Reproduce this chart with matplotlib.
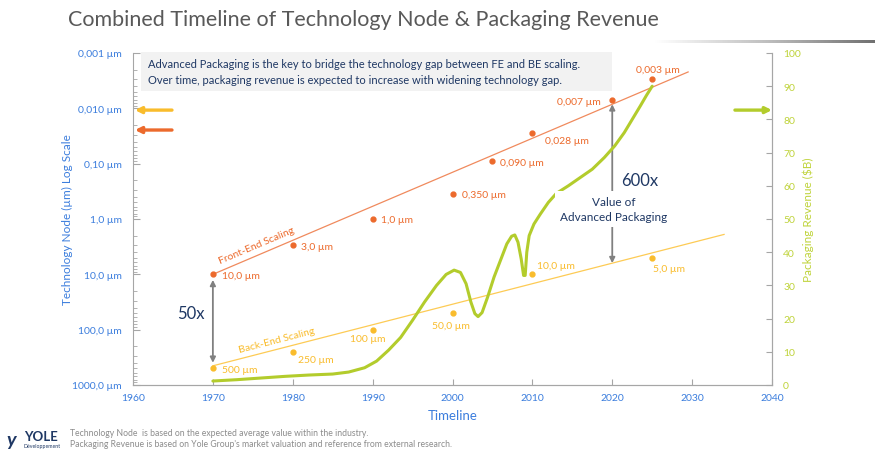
import matplotlib.pyplot as plt
import numpy as np
from matplotlib.patches import Rectangle
from matplotlib.colors import LinearSegmentedColormap

plt.rcParams['font.family'] = ['Lato', 'DejaVu Sans']

# ===DATA===
fe_years = [1970, 1980, 1990, 2000, 2005, 2010, 2020, 2025]
fe_nodes = [10.0, 3.0, 1.0, 0.35, 0.09, 0.028, 0.007, 0.003]
fe_labels = ['10,0 µm', '3,0 µm', '1,0 µm', '0,350 µm', '0,090 µm', '0,028 µm', '0,007 µm', '0,003 µm']

be_years = [1970, 1980, 1990, 2000, 2010, 2025]
be_nodes = [500, 250, 100, 50, 10, 5]
be_labels = ['500 µm', '250 µm', '100 µm', '50,0 µm', '10,0 µm', '5,0 µm']

# trend lines (log scale)
fe_trend_years = [1970, 2029.5]
fe_trend_nodes = [10.0, 0.0022]
be_trend_years = [1970, 2034]
be_trend_nodes = [450, 1.9]

# packaging revenue ($B)
rev_years = [1970, 1973, 1976, 1979, 1982, 1985, 1987, 1989, 1990.5, 1992, 1993.5,
             1995, 1996.5, 1998, 1999.2, 2000.2, 2001, 2001.7, 2002.3, 2002.8, 2003.2,
             2003.7, 2004.4, 2005.2, 2006, 2006.8, 2007.4, 2007.8, 2008.2, 2008.6,
             2008.9, 2009.1, 2009.3, 2009.6, 2010.2, 2011, 2012, 2013, 2014.5, 2016,
             2017.5, 2019, 2020.3, 2021.5, 2022.5, 2023.5, 2024.3, 2025]
rev_values = [1.2, 1.6, 2.1, 2.6, 3.0, 3.3, 3.9, 5.2, 7.2, 10.5, 14.3,
              19.5, 25, 30, 33.3, 34.6, 33.9, 30.5, 25, 21.5, 20.6,
              21.8, 26.5, 32.5, 37.5, 42.5, 44.8, 45.2, 43, 38,
              33, 33, 40, 45, 48.5, 51.5, 55, 57.7, 60, 62.5,
              65, 68.5, 72, 76, 80, 84, 87.3, 90]

node_ticks = [0.001, 0.01, 0.1, 1, 10, 100, 1000]
node_ticklabels = ['0,001 µm', '0,010 µm', '0,10 µm', '1,0 µm', '10,0 µm', '100,0 µm', '1000,0 µm']
year_ticks = [1960, 1970, 1980, 1990, 2000, 2010, 2020, 2030, 2040]

# label offsets in pixels (dx, dy, ha)
fe_offsets = [(9, -1, 'left'), (8, -1, 'left'), (8, -1, 'left'), (9, -1, 'left'),
              (8, -1, 'left'), (13, -7, 'left'), (-12, -2, 'right'), (6, 10, 'center')]
be_offsets = [(9, -1, 'left'), (5, -8, 'left'), (-5, -9, 'center'), (-2, -12, 'center'),
              (5, 9, 'left'), (1, -11, 'left')]

# ===COLORS===
blue = '#3B7DDD'
orange = '#EC6A2C'
orange_line = '#F08A5D'
yellow = '#F9BC2C'
yellow_line = '#FDCB55'
green = '#B3CC2C'
green_txt = '#BFD33A'
navy = '#1F3864'
spine = '#A6A6A6'

fig = plt.figure(figsize=(8.75, 4.56), dpi=100)
ax = fig.add_axes([133 / 875, 1 - 386 / 456, 639 / 875, 332 / 456])

ax.set_yscale('log')
ax.set_ylim(1000, 0.001)
ax.set_xlim(1960, 2040)
ax.set_yticks(node_ticks)
ax.set_yticklabels(node_ticklabels)
ax.set_xticks(year_ticks)
ax.tick_params(axis='y', which='both', direction='in', colors=spine, labelcolor=blue,
               labelsize=7.5, pad=8)
ax.tick_params(axis='y', which='major', length=5)
ax.tick_params(axis='y', which='minor', length=3)
ax.tick_params(axis='x', direction='in', colors=spine, labelcolor=blue, labelsize=7.5,
               length=4, pad=6)
ax.spines['top'].set_visible(False)
for s in ['left', 'bottom', 'right']:
    ax.spines[s].set_color(spine)
ax.set_ylabel('Technology Node (µm) Log Scale', color=blue, fontsize=8.5)
ax.yaxis.set_label_coords(-0.094, 0.5)
ax.set_xlabel('Timeline', color=blue, fontsize=9.5, labelpad=5)

# trend lines and points
ax.plot(fe_trend_years, fe_trend_nodes, color=orange_line, lw=0.9)
ax.plot(be_trend_years, be_trend_nodes, color=yellow_line, lw=0.9)
ax.plot(fe_years, fe_nodes, 'o', color=orange, ms=3.5, zorder=4)
ax.plot(be_years, be_nodes, 'o', color=yellow, ms=3.5, zorder=4)

for x, y, t, (dx, dy, ha) in zip(fe_years, fe_nodes, fe_labels, fe_offsets):
    ax.annotate(t, (x, y), xytext=(dx, dy), textcoords='offset pixels', ha=ha,
                va='center', color=orange, fontsize=7.5)
for x, y, t, (dx, dy, ha) in zip(be_years, be_nodes, be_labels, be_offsets):
    ax.annotate(t, (x, y), xytext=(dx, dy), textcoords='offset pixels', ha=ha,
                va='center', color=yellow, fontsize=7.5)

ax.text(1975.5, 2.97, 'Front-End Scaling', color=orange, fontsize=7.5, rotation=23,
        ha='center', va='center', rotation_mode='anchor')
ax.text(1978.0, 155, 'Back-End Scaling', color=yellow, fontsize=7.5, rotation=14.5,
        ha='center', va='center', rotation_mode='anchor')

# gap arrows
fe_2020 = 10 ** np.interp(2020, fe_trend_years, np.log10(fe_trend_nodes))
be_2020 = 10 ** np.interp(2020, be_trend_years, np.log10(be_trend_nodes))
arrow = dict(arrowstyle='<|-|>', color='#808080', lw=1.3, mutation_scale=8)
ax.annotate('', xy=(2020, fe_2020), xytext=(2020, be_2020),
            arrowprops=dict(arrow, shrinkA=0, shrinkB=0))
ax.annotate('', xy=(1970, fe_nodes[0]), xytext=(1970, be_nodes[0]),
            arrowprops=dict(arrow, shrinkA=4, shrinkB=4))
ax.text(2023.4, 0.2, '600x', color=navy, fontsize=12, ha='center', va='center')
ax.text(1967.2, 50, '50x', color=navy, fontsize=12, ha='center', va='center')

# axis indicator arrows
ind = dict(arrowstyle='-|>', lw=2.4, mutation_scale=9, shrinkA=0, shrinkB=0)
ax.annotate('', xy=(0.003, 0.828), xytext=(0.061, 0.828), xycoords='axes fraction',
            arrowprops=dict(ind, color=yellow))
ax.annotate('', xy=(0.003, 0.768), xytext=(0.061, 0.768), xycoords='axes fraction',
            arrowprops=dict(ind, color=orange))

# revenue axis
ax2 = ax.twinx()
ax2.set_ylim(0, 100)
ax2.set_yticks(range(0, 101, 10))
ax2.tick_params(axis='y', direction='in', colors=spine, labelcolor=green_txt,
                labelsize=7.5, length=4, pad=8)
for s in ['top', 'left']:
    ax2.spines[s].set_visible(False)
for s in ['right', 'bottom']:
    ax2.spines[s].set_color(spine)
ax2.set_ylabel('Packaging Revenue ($B)', color=green_txt, fontsize=8.5)
ax2.yaxis.set_label_coords(1.0485, 0.5)
ax2.plot(rev_years, rev_values, color=green, lw=2.2, solid_joinstyle='round',
         solid_capstyle='round')
ax2.annotate('', xy=(1.0, 0.828), xytext=(0.942, 0.828), xycoords='axes fraction',
             arrowprops=dict(ind, color=green))
ax2.text(2020.2, 53, 'Value of\nAdvanced Packaging', color=navy, fontsize=8.5,
         ha='center', va='center', linespacing=1.35, zorder=6,
         bbox=dict(boxstyle='square,pad=0.45', fc='white', ec='none'))

# header box
fig.add_artist(Rectangle((141 / 875, 1 - 92 / 456), 471 / 875, 39 / 456,
                         transform=fig.transFigure, fc='#F2F2F2', ec='none'))
fig.text(148 / 875, 1 - 65 / 456,
         'Advanced Packaging is the key to bridge the technology gap between FE and BE scaling.',
         color=navy, fontsize=8, va='center')
fig.text(148 / 875, 1 - 80 / 456,
         'Over time, packaging revenue is expected to increase with widening technology gap.',
         color=navy, fontsize=8, va='center')

# title and rule
fig.text(68 / 875, 1 - 20 / 456, 'Combined Timeline of Technology Node & Packaging Revenue',
         color='#595959', fontsize=15.5, va='center')
rule = fig.add_axes([655 / 875, 1 - 43.5 / 456, 220 / 875, 2.5 / 456])
rule.imshow(np.linspace(0, 1, 256)[None, :], aspect='auto',
            cmap=LinearSegmentedColormap.from_list('g', ['#FFFFFF', '#C0C0C0', '#707070']))
rule.axis('off')

# footer
fig.text(70 / 875, 1 - 433.5 / 456,
         'Technology Node  is based on the expected average value within the industry.',
         color='#8C8C8C', fontsize=6.2, va='center')
fig.text(70 / 875, 1 - 445 / 456,
         "Packaging Revenue is based on Yole Group's market valuation and reference from external research.",
         color='#8C8C8C', fontsize=6.2, va='center')
fig.text(6 / 875, 1 - 441 / 456, 'y', color=navy, fontsize=14, fontweight='bold',
         style='italic', va='center')
fig.text(24 / 875, 1 - 437 / 456, 'YOLE', color=navy, fontsize=9.5, fontweight='bold',
         va='center')
fig.text(24 / 875, 1 - 446.5 / 456, 'Développement', color=navy, fontsize=3.8, va='center')

fig.savefig('out.png', dpi=100)
